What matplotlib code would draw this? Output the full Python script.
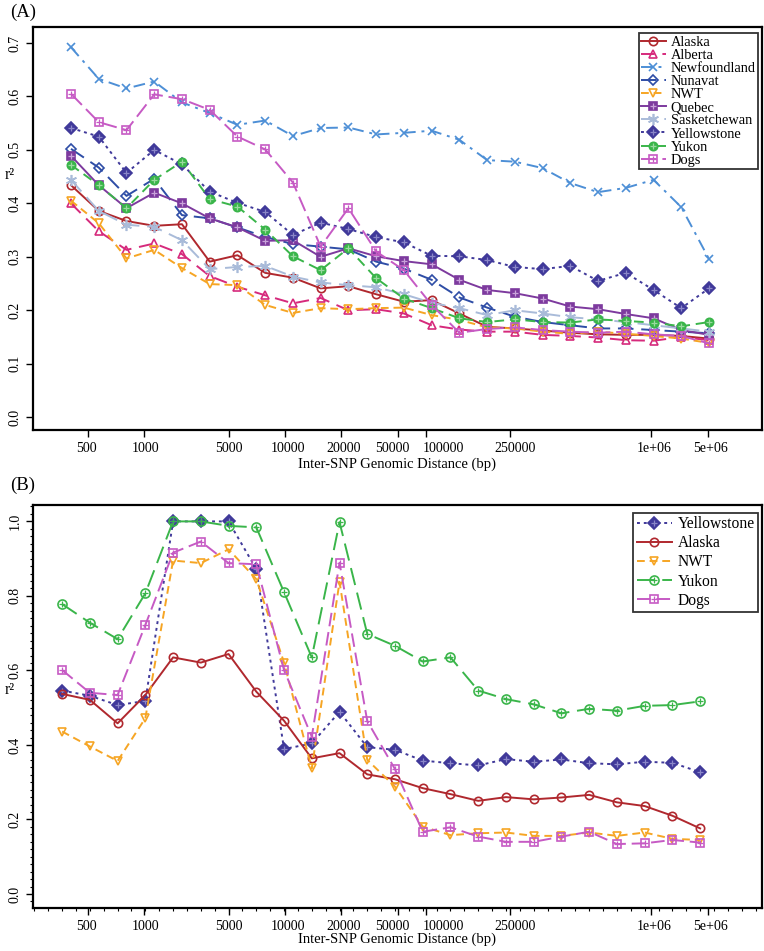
import numpy as np
import matplotlib
matplotlib.use('Agg')
import matplotlib.pyplot as plt
import matplotlib.transforms as mtransforms
from matplotlib.legend_handler import HandlerTuple
from matplotlib.ticker import FixedLocator, MultipleLocator

plt.rcParams['font.family'] = ['Liberation Serif', 'DejaVu Serif']

# ---------------- data ----------------
tick_labels = ['500', '1000', '5000', '10000', '20000', '50000', '100000',
               '250000', '1e+06', '5e+06']

# Panel A
alaska_a = [0.434, 0.386, 0.367, 0.358, 0.361, 0.291, 0.303, 0.270, 0.261, 0.241, 0.245, 0.230,
            0.216, 0.219, 0.194, 0.169, 0.166, 0.162, 0.158, 0.155, 0.154, 0.154, 0.152, 0.147]
alberta_a = [0.400, 0.348, 0.313, 0.325, 0.305, 0.264, 0.244, 0.228, 0.213, 0.223, 0.200, 0.202,
             0.194, 0.172, 0.164, 0.160, 0.160, 0.154, 0.152, 0.149, 0.144, 0.143, 0.150, 0.144]
newfoundland_a = [0.692, 0.633, 0.615, 0.628, 0.589, 0.569, 0.547, 0.555, 0.526, 0.541, 0.542, 0.529,
                  0.532, 0.536, 0.519, 0.481, 0.478, 0.466, 0.438, 0.421, 0.429, 0.444, 0.393, 0.296]
nunavat_a = [0.502, 0.467, 0.414, 0.446, 0.378, 0.372, 0.355, 0.337, 0.324, 0.319, 0.314, 0.291,
             0.278, 0.257, 0.224, 0.205, 0.188, 0.178, 0.172, 0.166, 0.166, 0.163, 0.160, 0.157]
nwt_a = [0.405, 0.363, 0.297, 0.313, 0.279, 0.249, 0.247, 0.210, 0.195, 0.204, 0.202, 0.204,
         0.205, 0.191, 0.182, 0.168, 0.166, 0.160, 0.156, 0.160, 0.156, 0.152, 0.147, 0.139]
quebec_a = [0.489, 0.434, 0.391, 0.420, 0.400, 0.372, 0.355, 0.330, 0.331, 0.300, 0.316, 0.301,
            0.292, 0.286, 0.257, 0.238, 0.232, 0.222, 0.207, 0.202, 0.193, 0.185, 0.163, 0.154]
sask_a = [0.444, 0.386, 0.360, 0.356, 0.331, 0.277, 0.281, 0.283, 0.263, 0.252, 0.247, 0.243,
          0.230, 0.214, 0.204, 0.191, 0.200, 0.194, 0.187, 0.183, 0.178, 0.172, 0.166, 0.160]
yellowstone_a = [0.541, 0.525, 0.457, 0.500, 0.473, 0.422, 0.401, 0.384, 0.341, 0.364, 0.352, 0.337,
                 0.327, 0.302, 0.301, 0.294, 0.281, 0.277, 0.283, 0.255, 0.270, 0.238, 0.204, 0.241]
yukon_a = [0.472, 0.434, 0.391, 0.444, 0.478, 0.408, 0.394, 0.351, 0.301, 0.275, 0.316, 0.260,
           0.222, 0.204, 0.185, 0.178, 0.183, 0.178, 0.177, 0.183, 0.180, 0.177, 0.170, 0.178]
dogs_a = [0.605, 0.552, 0.537, 0.604, 0.595, 0.575, 0.525, 0.501, 0.439, 0.319, 0.391, 0.310,
          0.275, 0.210, 0.158, 0.165, 0.168, 0.163, 0.160, 0.158, 0.160, 0.155, 0.152, 0.138]

# Panel B
yellowstone_b = [0.546, 0.532, 0.507, 0.518, 1.000, 1.000, 1.000, 0.872, 0.389, 0.404, 0.489, 0.394,
                 0.387, 0.358, 0.351, 0.345, 0.362, 0.355, 0.361, 0.351, 0.348, 0.355, 0.352, 0.327]
alaska_b = [0.537, 0.521, 0.458, 0.534, 0.635, 0.621, 0.644, 0.543, 0.465, 0.364, 0.378, 0.321,
            0.308, 0.284, 0.268, 0.250, 0.260, 0.254, 0.259, 0.266, 0.246, 0.236, 0.210, 0.176]
nwt_b = [0.436, 0.396, 0.357, 0.472, 0.895, 0.888, 0.925, 0.845, 0.621, 0.337, 0.838, 0.360,
         0.288, 0.181, 0.158, 0.163, 0.165, 0.156, 0.156, 0.165, 0.156, 0.165, 0.148, 0.145]
yukon_b = [0.778, 0.728, 0.684, 0.807, 1.000, 1.000, 0.988, 0.984, 0.810, 0.635, 0.998, 0.698,
           0.666, 0.624, 0.635, 0.546, 0.523, 0.509, 0.485, 0.497, 0.492, 0.505, 0.507, 0.517]
dogs_b = [0.601, 0.540, 0.534, 0.722, 0.916, 0.946, 0.888, 0.885, 0.601, 0.422, 0.889, 0.464,
          0.335, 0.167, 0.179, 0.154, 0.140, 0.140, 0.154, 0.167, 0.134, 0.136, 0.145, 0.138]

# ---------------- layout ----------------
W, H = 764, 951
fig = plt.figure(figsize=(W / 100, H / 100), dpi=100)

def frac(l, t, r, b):
    return [l / W, 1 - b / H, (r - l) / W, (b - t) / H]

axA = fig.add_axes(frac(33, 27, 762, 430))
axB = fig.add_axes(frac(33, 505, 762, 908))

tick_pos = [0.61, 2.63, 5.70, 7.71, 9.73, 11.79, 12.80, 15.83, 20.92, 22.95]
label_pos = [0.54, 2.67, 5.70, 7.82, 9.84, 11.57, 13.41, 16.01, 21.02, 23.04]
xa = np.arange(len(alaska_a))
xb = np.arange(len(alaska_b)) - 0.32

C = dict(alaska='#B0282E', alberta='#D62A7C', newf='#4D8FD6', nunavat='#2E4DA6',
         nwt='#F6A524', quebec='#7D3A9E', sask='#A9BBD9', yellow='#40399A',
         yukon='#3AB54A', dogs='#C65AC4')

LW = 1.4
MS = 6.0

def series(ax, x, y, color, dash, marker, filled, label, plus=None, ms=MS):
    ln, = ax.plot(x, y, color=color, lw=LW, linestyle=dash, marker=marker,
                  markersize=ms, markeredgewidth=1.2,
                  markerfacecolor=color if filled else 'none',
                  markeredgecolor=color, label=label)
    if plus is not None:
        p, = ax.plot(x, y, linestyle='none', marker='+', markersize=ms * 0.75,
                     markeredgewidth=0.9, color=plus)
        return (ln, p)
    return ln

ast = (6, 2, 0)

# Panel A
hA = []
hA.append(series(axA, xa, alaska_a, C['alaska'], '-', 'o', False, 'Alaska'))
hA.append(series(axA, xa, alberta_a, C['alberta'], (0, (7, 4)), '^', False, 'Alberta'))
hA.append(series(axA, xa, newfoundland_a, C['newf'], (0, (6, 3, 1.5, 3)), 'x', False, 'Newfoundland', ms=6))
hA.append(series(axA, xa, nunavat_a, C['nunavat'], (0, (8, 4)), 'D', False, 'Nunavat', ms=5.5))
hA.append(series(axA, xa, nwt_a, C['nwt'], (0, (4, 2.5)), 'v', False, 'NWT'))
hA.append(series(axA, xa, quebec_a, C['quebec'], '-', 's', True, 'Quebec', plus='#C9A2DA', ms=5.5))
hA.append(series(axA, xa, sask_a, C['sask'], (0, (8, 4)), ast, False, 'Sasketchewan', ms=8))
hA.append(series(axA, xa, yellowstone_a, C['yellow'], (0, (1.5, 2)), 'D', True, 'Yellowstone', plus='#8A86C8', ms=6))
hA.append(series(axA, xa, yukon_a, C['yukon'], (0, (5, 3)), 'o', True, 'Yukon', plus='#9AD99F', ms=6))
hA.append(series(axA, xa, dogs_a, C['dogs'], (0, (8, 3)), 's', False, 'Dogs', plus=C['dogs'], ms=6))

# Panel B
hB = []
hB.append(series(axB, xb, yellowstone_b, C['yellow'], (0, (1.5, 2)), 'D', True, 'Yellowstone', plus='#8A86C8', ms=6.5))
hB.append(series(axB, xb, alaska_b, C['alaska'], '-', 'o', False, 'Alaska'))
hB.append(series(axB, xb, nwt_b, C['nwt'], (0, (4, 2.5)), 'v', False, 'NWT'))
hB.append(series(axB, xb, yukon_b, C['yukon'], (0, (9, 4)), 'o', False, 'Yukon', plus=C['yukon'], ms=6.5))
hB.append(series(axB, xb, dogs_b, C['dogs'], (0, (7, 3)), 's', False, 'Dogs', plus=C['dogs'], ms=6))

labelsA = ['Alaska', 'Alberta', 'Newfoundland', 'Nunavat', 'NWT', 'Quebec',
           'Sasketchewan', 'Yellowstone', 'Yukon', 'Dogs']
labelsB = ['Yellowstone', 'Alaska', 'NWT', 'Yukon', 'Dogs']

legA = axA.legend(hA, labelsA, loc='upper right', bbox_to_anchor=(0.9945, 0.984),
                  fontsize=10.4, handlelength=1.7, handletextpad=0.35, labelspacing=0.0,
                  borderpad=0.15, borderaxespad=0.0, fancybox=False, frameon=True,
                  handler_map={tuple: HandlerTuple(ndivide=1)})
legB = axB.legend(hB, labelsB, loc='upper right', bbox_to_anchor=(0.9945, 0.98),
                  fontsize=11.2, handlelength=2.3, handletextpad=0.35, labelspacing=0.2,
                  borderpad=0.2, borderaxespad=0.0, fancybox=False, frameon=True,
                  handler_map={tuple: HandlerTuple(ndivide=1)})
for leg in (legA, legB):
    leg.get_frame().set_edgecolor('black')
    leg.get_frame().set_linewidth(1.3)

for ax, ylim, yt, ylab in ((axA, (-0.024, 0.730), np.arange(0, 0.71, 0.1), 464),
                           (axB, (-0.0376, 1.044), np.arange(0, 1.01, 0.2), 939)):
    ax.set_xlim(-1.37, 24.91)
    ax.set_ylim(*ylim)
    ax.set_xticks(tick_pos)
    ax.set_xticklabels([])
    trans = mtransforms.blended_transform_factory(ax.transData, ax.transAxes)
    off = mtransforms.offset_copy(trans, fig=fig, y=-18, units='dots')
    for lp, lab in zip(label_pos, tick_labels):
        ax.text(lp, 0, lab, transform=off, ha='center', va='center', fontsize=10)
    ax.set_yticks(yt)
    ax.set_yticklabels(['%.1f' % v for v in yt], fontsize=10, rotation=90, va='center')
    ax.tick_params(direction='out', length=5, width=1.0, pad=3)
    for s in ax.spines.values():
        s.set_linewidth(1.6)
    fig.text(397 / W, 1 - ylab / H, 'Inter-SNP Genomic Distance (bp)', fontsize=10.5,
             ha='center', va='center')

axB.xaxis.set_minor_locator(FixedLocator(np.arange(-1.32, 24.9, 0.5)))
axB.yaxis.set_minor_locator(MultipleLocator(0.02))
axB.tick_params(which='minor', direction='out', length=2.5, width=0.8)

fig.text(5 / W, 1 - 175 / H, 'r²', fontsize=11.5, ha='left', va='center')
fig.text(5 / W, 1 - 690 / H, 'r²', fontsize=11.5, ha='left', va='center')
fig.text(10 / W, 1 - 12 / H, '(A)', fontsize=13.5, ha='left', va='center')
fig.text(10 / W, 1 - 485 / H, '(B)', fontsize=13.5, ha='left', va='center')

fig.savefig('out.png', dpi=100)
